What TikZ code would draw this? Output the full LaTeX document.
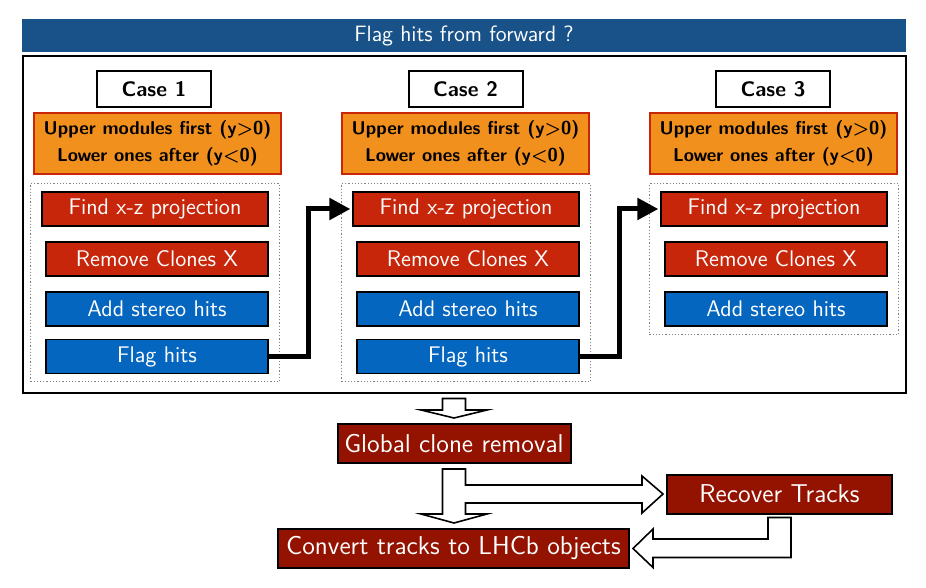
\documentclass[tikz,border=0pt]{standalone}
\usepackage{amsmath}
\usepackage{xcolor}
\usetikzlibrary{arrows.meta,calc,fit}
\definecolor{barblue}{RGB}{25,82,136}
\definecolor{boxorange}{RGB}{242,144,30}
\definecolor{boxred}{RGB}{200,38,10}
\definecolor{stepblue}{RGB}{5,102,192}
\definecolor{darkred}{RGB}{148,19,0}
\begin{document}
\begin{tikzpicture}[x=0.5pt,y=0.5pt,yscale=-1,
  titlebar/.style={fill=barblue,text=white,minimum width=442pt,minimum height=16.5pt,inner sep=0pt,font=\sffamily\fontsize{11.1}{13}\selectfont},
  frame/.style={draw,line width=1pt,minimum width=441.75pt,minimum height=168.25pt,inner sep=0pt},
  casebox/.style={draw,line width=1pt,minimum width=57pt,minimum height=18pt,inner sep=0pt,font=\sffamily\bfseries\fontsize{10.5}{12}\selectfont},
  orangebox/.style={draw=boxred,fill=boxorange,line width=0.8pt,minimum width=123.5pt,minimum height=30.5pt,inner sep=0pt,align=center,font=\sffamily\bfseries\fontsize{9.3}{13.5}\selectfont},
  groupbox/.style={draw=gray,densely dotted,line width=0.6pt,inner xsep=5.5pt,inner ysep=3.75pt},
  findstep/.style={draw,line width=0.6pt,fill=boxred,text=white,minimum width=113pt,minimum height=17pt,inner sep=0pt,font=\sffamily\fontsize{11.3}{13}\selectfont},
  redstep/.style={findstep,minimum width=111pt},
  bluestep/.style={redstep,fill=stepblue},
  finalstep/.style={draw,line width=1pt,fill=darkred,text=white,minimum height=19.5pt,inner sep=0pt,font=\sffamily\fontsize{12.9}{15}\selectfont},
  jump/.style={line width=2.5pt,line join=miter,shorten >=1pt,-{Triangle[length=10.5pt,width=10.5pt]}},
  hollow/.style={draw,fill=white,line width=0.8pt,line join=miter}]
\useasboundingbox (0,0) rectangle (926,588);
\node[titlebar] (title) at (464,35.5) {Flag hits from forward ?};
\node[frame] (frame) at (464.25,224.25) {};
\node[casebox] (case1) at (154,89) {Case 1};
\node[casebox] (case2) at (465.5,89) {Case 2};
\node[casebox] (case3) at (773,89) {Case 3};
\node[orangebox] (order1) at (157.5,143.5) {Upper modules first (y\textgreater0)\\Lower ones after (y\textless0)};
\node[orangebox] (order2) at (465.5,143.5) {Upper modules first (y\textgreater0)\\Lower ones after (y\textless0)};
\node[orangebox] (order3) at (773.5,143.5) {Upper modules first (y\textgreater0)\\Lower ones after (y\textless0)};
\node[findstep] (find1) at (155,209) {Find x-z projection};
\node[redstep] (clones1) at (157,259) {Remove Clones X};
\node[bluestep] (stereo1) at (157,309) {Add stereo hits};
\node[bluestep] (flag1) at (157,356.5) {Flag hits};
\node[findstep] (find2) at (466,209) {Find x-z projection};
\node[redstep] (clones2) at (468,259) {Remove Clones X};
\node[bluestep] (stereo2) at (468,309) {Add stereo hits};
\node[bluestep] (flag2) at (468,356.5) {Flag hits};
\node[findstep] (find3) at (774,209) {Find x-z projection};
\node[redstep] (clones3) at (776,259) {Remove Clones X};
\node[bluestep] (stereo3) at (776,309) {Add stereo hits};
\node[groupbox,fit=(find1)(flag1)] (group1) {};
\node[groupbox,fit=(find2)(flag2)] (group2) {};
\node[groupbox,fit=(find3)(stereo3)] (group3) {};
\draw[jump] (flag1.east) -- ++(40,0) |- (find2.west);
\draw[jump] (flag2.east) -- ++(40,0) |- (find3.west);
\node[finalstep,minimum width=116.5pt] (global) at (454,443.5) {Global clone removal};
\node[finalstep,minimum width=112.5pt] (recover) at (779.5,494) {Recover Tracks};
\node[finalstep,minimum width=175.5pt] (convert) at (453.5,548.5) {Convert tracks to LHCb objects};
\coordinate (a1) at ($(frame.south -| global.north)+(0,5)$);
\coordinate (a2) at ($(global.north)+(0,-5)$);
\draw[hollow] ($(a1)+(-11.5,0)$) -- ++(23,0) |- ($(a2)+(33,-8)$) -- (a2) -- ++(-33,-8) -| cycle;
\coordinate (b1) at ($(global.south)+(0,5)$);
\coordinate (b2) at ($(convert.north -| global.south)+(0,-5)$);
\coordinate (b3) at ($(recover.west)+(-3,0)$);
\draw[hollow] ($(b1)+(-11.5,0)$) -- ++(23,0) |- ($(b3)+(-21,-9)$) -- ++(0,-9) -- (b3) -- ++(-21,19) -- ++(0,-10) -| ($(b2)+(11.5,-9)$) -- ++(21.5,0) -- (b2) -- ++(-33,-9) -- ++(21.5,0) -- cycle;
\coordinate (c1) at ($(recover.south)+(0,3)$);
\coordinate (c2) at ($(convert.east)+(3,0)$);
\draw[hollow] ($(c1)+(-11.5,0)$) -- ++(23,0) |- ($(c2)+(20,9)$) -- ++(0,10) -- (c2) -- ++(20,-19.5) -- ++(0,10) -| ($(c1)+(-11.5,0)$) -- cycle;
\end{tikzpicture}
\end{document}
